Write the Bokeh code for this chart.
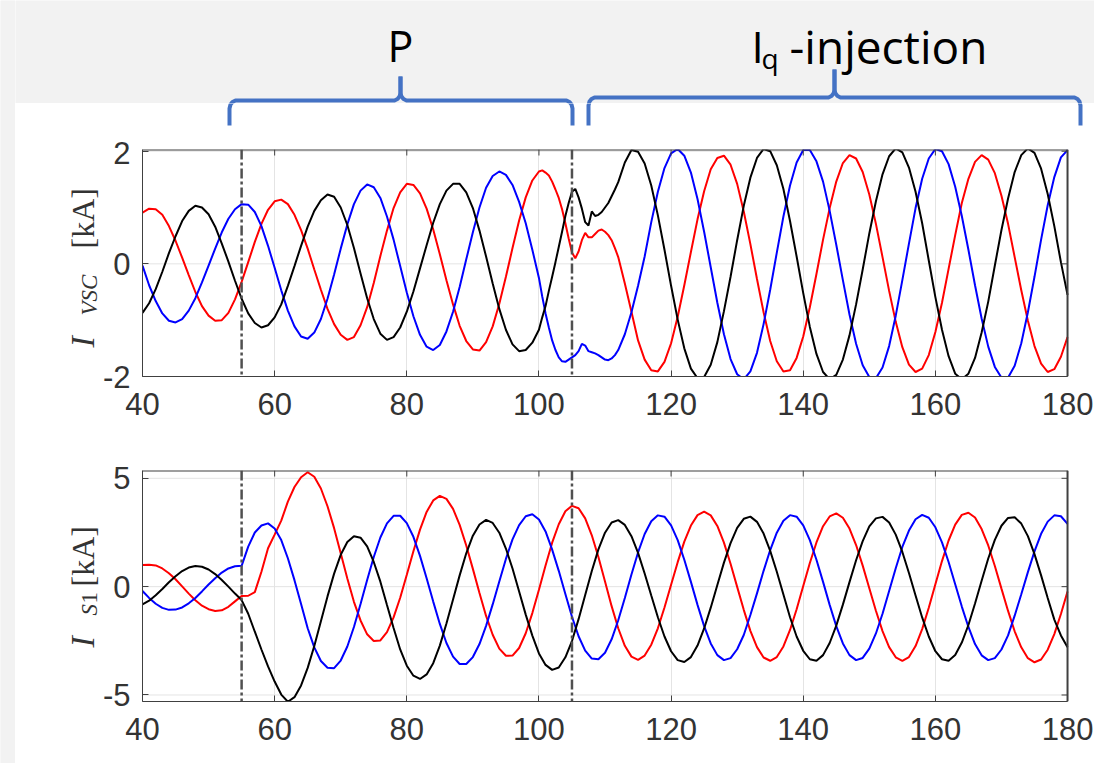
import math
from bokeh.plotting import figure
from bokeh.layouts import row, column
from bokeh.models import Range1d, Span, FixedTicker
from bokeh.embed import file_html
from bokeh.resources import INLINE
from bokeh.core.properties import value

# ------------------------------------------------------------------ data
# time axis [ms]; the upper panel is sampled every 0.5 ms around the 105 ms event
t_top = list(range(40, 100)) + [100 + 0.5 * k for k in range(24)] + list(range(112, 181))
t_bot = list(range(40, 181))

# I_VSC [kA], three phases
ivsc_red = [
    0.91, 0.98, 0.97, 0.87, 0.67, 0.41, 0.11, -0.20, -0.50, -0.75,
    -0.92, -1.01, -1.00, -0.87, -0.63, -0.32, 0.03, 0.39, 0.71, 0.96,
    1.11, 1.14, 1.06, 0.87, 0.60, 0.27, -0.10, -0.46, -0.80, -1.07,
    -1.26, -1.35, -1.30, -1.09, -0.77, -0.34, 0.14, 0.59, 0.99, 1.27,
    1.42, 1.40, 1.25, 0.98, 0.61, 0.17, -0.29, -0.72, -1.10, -1.37,
    -1.52, -1.54, -1.39, -1.11, -0.71, -0.23, 0.28, 0.77, 1.18, 1.48,
    1.64, 1.66, 1.62, 1.57, 1.46, 1.32, 1.17, 0.97, 0.72, 0.45, 0.20, 0.10,
    0.22, 0.42, 0.55, 0.47, 0.47, 0.53, 0.59, 0.61, 0.57, 0.51, 0.42, 0.28,
    0.12, -0.35, -0.85, -1.36, -1.70, -1.89, -1.91, -1.74,
    -1.41, -0.94, -0.38, 0.21, 0.79, 1.29, 1.68, 1.88, 1.92, 1.76,
    1.42, 0.93, 0.35, -0.27, -0.86, -1.37, -1.73, -1.91, -1.89, -1.67,
    -1.29, -0.77, -0.18, 0.43, 0.99, 1.46, 1.79, 1.93, 1.87, 1.63,
    1.23, 0.71, 0.12, -0.48, -1.03, -1.48, -1.79, -1.92, -1.86, -1.62,
    -1.21, -0.69, -0.09, 0.51, 1.08, 1.51, 1.81, 1.93, 1.85, 1.61,
    1.21, 0.71, 0.12, -0.47, -1.01, -1.46, -1.77, -1.92, -1.87, -1.65, -1.30,
]
ivsc_black = [
    -0.87, -0.70, -0.45, -0.14, 0.19, 0.49, 0.76, 0.94, 1.03, 1.00,
    0.88, 0.66, 0.36, 0.04, -0.30, -0.62, -0.88, -1.05, -1.13, -1.09,
    -0.95, -0.72, -0.39, -0.04, 0.32, 0.66, 0.94, 1.13, 1.23, 1.19,
    1.00, 0.69, 0.28, -0.17, -0.61, -0.98, -1.24, -1.35, -1.30, -1.13,
    -0.85, -0.49, -0.08, 0.33, 0.73, 1.06, 1.30, 1.42, 1.42, 1.27,
    0.99, 0.59, 0.13, -0.35, -0.80, -1.17, -1.43, -1.55, -1.53, -1.40,
    -1.17, -0.95, -0.75, -0.48, -0.23, 0.03, 0.30, 0.57, 0.85, 1.08, 1.28, 1.33,
    1.18, 0.98, 0.74, 0.68, 0.93, 0.85, 0.87, 0.92, 1.00, 1.08, 1.20, 1.32,
    1.45, 1.80, 2.02, 1.99, 1.78, 1.39, 0.86, 0.25,
    -0.39, -0.99, -1.50, -1.86, -2.03, -2.01, -1.79, -1.39, -0.84, -0.23,
    0.42, 1.03, 1.53, 1.88, 2.04, 2.00, 1.75, 1.33, 0.76, 0.13,
    -0.52, -1.12, -1.60, -1.92, -2.05, -1.97, -1.70, -1.27, -0.72, -0.10,
    0.54, 1.11, 1.59, 1.91, 2.05, 1.98, 1.71, 1.28, 0.72, 0.06,
    -0.59, -1.17, -1.64, -1.95, -2.05, -1.95, -1.67, -1.22, -0.67, -0.03,
    0.60, 1.16, 1.63, 1.93, 2.05, 1.97, 1.69, 1.24, 0.67, 0.03, -0.55,
]
ivsc_blue = [
    -0.03, -0.38, -0.66, -0.88, -1.01, -1.04, -0.98, -0.83, -0.61, -0.33,
    -0.03, 0.27, 0.56, 0.80, 0.97, 1.06, 1.05, 0.92, 0.67, 0.32,
    -0.07, -0.47, -0.83, -1.11, -1.29, -1.33, -1.22, -0.98, -0.62, -0.19,
    0.27, 0.70, 1.06, 1.30, 1.41, 1.36, 1.17, 0.84, 0.43, -0.04,
    -0.51, -0.93, -1.26, -1.47, -1.53, -1.44, -1.20, -0.85, -0.41, 0.08,
    0.56, 1.00, 1.35, 1.56, 1.64, 1.58, 1.40, 1.10, 0.72, 0.25,
    -0.25, -0.58, -0.88, -1.13, -1.36, -1.53, -1.66, -1.73, -1.74, -1.70, -1.66, -1.62,
    -1.55, -1.42, -1.45, -1.55, -1.57, -1.59, -1.62, -1.66, -1.70, -1.71, -1.68, -1.62,
    -1.53, -1.25, -0.86, -0.39, 0.13, 0.74, 1.28, 1.70,
    1.96, 2.04, 1.92, 1.62, 1.15, 0.57, -0.06, -0.69, -1.25, -1.69,
    -1.96, -2.05, -1.91, -1.58, -1.07, -0.46, 0.20, 0.84, 1.39, 1.80,
    2.02, 2.02, 1.82, 1.46, 0.94, 0.34, -0.29, -0.90, -1.42, -1.80,
    -2.01, -2.03, -1.84, -1.46, -0.92, -0.29, 0.36, 0.99, 1.51, 1.87,
    2.04, 2.00, 1.77, 1.37, 0.85, 0.25, -0.38, -0.97, -1.47, -1.83,
    -2.02, -2.02, -1.81, -1.41, -0.86, -0.23, 0.43, 1.04, 1.54, 1.89, 2.02,
]

# I_S1 [kA], three phases
is1_red = [
    1.00, 1.01, 0.98, 0.84, 0.62, 0.34, 0.01, -0.32, -0.63, -0.88,
    -1.04, -1.12, -1.09, -0.93, -0.68, -0.43, -0.42, -0.25, 0.69, 1.77,
    2.40, 3.05, 3.92, 4.60, 5.05, 5.28, 5.07, 4.53, 3.71, 2.70,
    1.54, 0.38, -0.70, -1.56, -2.20, -2.51, -2.48, -2.10, -1.42, -0.51,
    0.55, 1.63, 2.63, 3.45, 3.98, 4.19, 4.05, 3.59, 2.85, 1.90,
    0.82, -0.29, -1.35, -2.22, -2.86, -3.19, -3.18, -2.83, -2.15, -1.22,
    -0.14, 0.98, 2.03, 2.88, 3.48, 3.73, 3.62, 3.15, 2.37, 1.37,
    0.24, -0.90, -1.92, -2.73, -3.23, -3.38, -3.18, -2.68, -1.92, -0.96,
    0.09, 1.13, 2.08, 2.82, 3.30, 3.46, 3.29, 2.80, 2.03, 1.06,
    -0.01, -1.07, -2.04, -2.79, -3.27, -3.42, -3.25, -2.76, -2.00, -1.04,
    0.03, 1.09, 2.04, 2.79, 3.24, 3.38, 3.18, 2.68, 1.92, 0.97,
    -0.07, -1.11, -2.05, -2.79, -3.26, -3.42, -3.25, -2.74, -1.96, -0.97,
    0.11, 1.18, 2.13, 2.86, 3.31, 3.41, 3.19, 2.66, 1.90, 0.95,
    -0.09, -1.12, -2.06, -2.80, -3.30, -3.49, -3.36, -2.91, -2.19, -1.26, -0.22,
]
is1_blue = [
    -0.20, -0.52, -0.79, -0.98, -1.07, -1.06, -0.96, -0.77, -0.52, -0.22,
    0.10, 0.39, 0.65, 0.84, 0.94, 0.96, 1.85, 2.50, 2.82, 2.92,
    2.68, 2.15, 1.31, 0.30, -0.80, -1.92, -2.80, -3.43, -3.74, -3.76,
    -3.41, -2.76, -1.86, -0.80, 0.31, 1.37, 2.27, 2.92, 3.27, 3.27,
    2.93, 2.30, 1.42, 0.39, -0.69, -1.72, -2.60, -3.23, -3.57, -3.57,
    -3.25, -2.65, -1.81, -0.82, 0.24, 1.28, 2.18, 2.84, 3.25, 3.34,
    3.10, 2.55, 1.71, 0.73, -0.34, -1.39, -2.29, -2.95, -3.32, -3.35,
    -3.05, -2.43, -1.55, -0.52, 0.56, 1.58, 2.43, 3.02, 3.29, 3.23,
    2.83, 2.15, 1.24, 0.22, -0.84, -1.82, -2.62, -3.16, -3.39, -3.30,
    -2.89, -2.23, -1.31, -0.31, 0.73, 1.69, 2.49, 3.04, 3.30, 3.23,
    2.83, 2.15, 1.24, 0.22, -0.84, -1.82, -2.62, -3.16, -3.39, -3.29,
    -2.86, -2.16, -1.25, -0.20, 0.85, 1.83, 2.59, 3.11, 3.31, 3.18,
    2.74, 2.04, 1.14, 0.11, -0.92, -1.86, -2.65, -3.17, -3.39, -3.30,
    -2.90, -2.25, -1.34, -0.35, 0.67, 1.63, 2.44, 3.00, 3.29, 3.25, 2.90,
]
is1_black = [
    -0.82, -0.65, -0.40, -0.11, 0.20, 0.48, 0.72, 0.88, 0.95, 0.92,
    0.79, 0.58, 0.31, 0.00, -0.32, -0.62, -1.25, -2.08, -2.90, -3.68,
    -4.38, -4.98, -5.31, -5.10, -4.56, -3.75, -2.74, -1.60, -0.45, 0.60,
    1.47, 2.06, 2.33, 2.26, 1.86, 1.14, 0.23, -0.85, -1.91, -2.90,
    -3.65, -4.11, -4.26, -4.05, -3.53, -2.72, -1.70, -0.59, 0.52, 1.54,
    2.35, 2.87, 3.08, 2.94, 2.49, 1.76, 0.84, -0.22, -1.29, -2.26,
    -3.08, -3.61, -3.84, -3.73, -3.26, -2.51, -1.50, -0.39, 0.72, 1.72,
    2.49, 2.96, 3.07, 2.85, 2.33, 1.56, 0.61, -0.41, -1.41, -2.30,
    -2.98, -3.39, -3.48, -3.25, -2.72, -1.93, -0.97, 0.08, 1.11, 2.01,
    2.71, 3.13, 3.23, 2.99, 2.45, 1.65, 0.69, -0.36, -1.41, -2.30,
    -2.96, -3.35, -3.42, -3.16, -2.60, -1.80, -0.83, 0.21, 1.22, 2.10,
    2.78, 3.15, 3.22, 2.96, 2.40, 1.60, 0.63, -0.41, -1.42, -2.30,
    -2.98, -3.35, -3.42, -3.15, -2.58, -1.77, -0.78, 0.27, 1.30, 2.16,
    2.81, 3.17, 3.20, 2.91, 2.33, 1.50, 0.52, -0.52, -1.52, -2.25, -2.80,
]

events = [55, 105]                       # switching instants [ms]
x_ticks = [40, 60, 80, 100, 120, 140, 160, 180]
y_ticks_top = [-2, 0, 2]
y_ticks_bot = [-5, 0, 5]
phase_colors = ["#ff0000", "#0000ff", "#000000"]

assert len(t_top) == len(ivsc_red) == len(ivsc_black) == len(ivsc_blue)
assert len(t_bot) == len(is1_red) == len(is1_black) == len(is1_blue)

# ------------------------------------------------------------------ geometry (page pixels)
GRAY_BG = "#f2f2f2"
AX = "#404040"
TXT = "#333333"
GRID = "#e4e4e4"
BRACE = "#4472c4"
PAGE_W = 1094
STRIP_W = 15                  # grey strip at the left edge
LAB_L, LAB_R = STRIP_W, 99    # column holding the y-axis titles
BOX_L, BOX_R = 141, 1067      # where t = 40 and t = 180 sit
PLOT_W = PAGE_W - LAB_R
PX_PER_MS = (BOX_R - BOX_L) / (x_ticks[-1] - x_ticks[0])
X_HI = x_ticks[-1] + (PAGE_W - BOX_R) / PX_PER_MS


def make_panel(t, series, ylo, yhi, yticks, height, btop, bbot, frame_h):
    p = figure(width=PLOT_W, height=height, x_range=Range1d(x_ticks[0], X_HI),
               y_range=Range1d(ylo, yhi), output_backend="svg", toolbar_location=None,
               min_border_left=BOX_L - LAB_R, min_border_right=0,
               min_border_top=btop, min_border_bottom=bbot)
    p.background_fill_color = "white"
    p.border_fill_color = "white"
    p.outline_line_color = None
    xa, ya = p.xaxis[0], p.yaxis[0]
    xa.ticker = FixedTicker(ticks=x_ticks)
    ya.ticker = FixedTicker(ticks=yticks)
    ya.major_label_overrides = {v: str(v) for v in yticks}
    xa.bounds = (x_ticks[0], x_ticks[-1])
    for ax in (xa, ya):
        ax.axis_line_color = AX
        ax.major_tick_line_color = AX
        ax.major_tick_in = 6
        ax.major_tick_out = 0
        ax.minor_tick_line_color = None
        ax.major_label_text_font = "Liberation Sans"
        ax.major_label_text_font_size = "31px"
        ax.major_label_text_color = TXT
    xa.major_label_standoff = 16
    ya.major_label_standoff = 12
    p.xgrid.ticker = FixedTicker(ticks=x_ticks)
    p.xgrid.grid_line_color = GRID
    p.ygrid.visible = False
    # horizontal grid lines limited to the plot box
    p.segment(x0=[x_ticks[0]] * len(yticks), x1=[x_ticks[-1]] * len(yticks),
              y0=yticks, y1=yticks, line_color=GRID, line_width=1)

    for ys, c in zip(series, phase_colors):
        p.line(t, ys, line_color=c, line_width=2)

    for e in events:
        p.add_layout(Span(location=e, dimension="height", line_color="#505050",
                          line_width=2.5, line_dash="10 3 3 3"))

    # top and right edges of the box with mirrored inward ticks
    dy = 6 * (yhi - ylo) / frame_h
    dx = 6 / PX_PER_MS
    p.segment(x0=[x_ticks[0], x_ticks[-1]], y0=[yhi, ylo], x1=[x_ticks[-1], x_ticks[-1]],
              y1=[yhi, yhi], line_color=AX, line_width=2)
    p.segment(x0=x_ticks, x1=x_ticks, y0=[yhi] * len(x_ticks), y1=[yhi - dy] * len(x_ticks),
              line_color=AX, line_width=1)
    p.segment(x0=[x_ticks[-1]] * len(yticks), x1=[x_ticks[-1] - dx] * len(yticks),
              y0=yticks, y1=yticks, line_color=AX, line_width=1)
    return p


def label_fig(height, btop, bbot, frame_top, frame_h, parts):
    """Narrow figure left of a panel carrying the rotated y-axis title (page px coords)."""
    f = figure(width=LAB_R - LAB_L, height=height, x_range=Range1d(LAB_L, LAB_R),
               y_range=Range1d(-(frame_top + frame_h), -frame_top),
               output_backend="svg", toolbar_location=None,
               x_axis_location=None, y_axis_location=None,
               min_border_left=0, min_border_right=0, min_border_top=btop, min_border_bottom=bbot)
    f.outline_line_color = None
    f.grid.visible = False
    f.background_fill_color = "white"
    f.border_fill_color = "white"
    for text, X, Y, style, size in parts:
        f.text(x=[X], y=[-Y], text=[text], angle=math.pi / 2,
               text_font=value("Liberation Serif"), text_font_style=style,
               text_font_size=f"{size}px", text_color=TXT,
               text_align="left", text_baseline="alphabetic")
    return f


TOP_LO, TOP_HI = -2.0, 2.03
p1 = make_panel(t_top, [ivsc_red, ivsc_blue, ivsc_black], TOP_LO, TOP_HI, y_ticks_top,
                319, 8, 84, 227)
lab1 = label_fig(319, 8, 84, 149, 227,
                 [("I", 82, 347, "italic", 34), ("VSC", 89, 315, "italic", 23),
                  ("[kA]", 82, 248, "normal", 32)])

BOT_LO, BOT_HI = -5.3, 5.36
p2 = make_panel(t_bot, [is1_red, is1_blue, is1_black], BOT_LO, BOT_HI, y_ticks_bot,
                303, 10, 62, 231)
lab2 = label_fig(303, 10, 62, 470, 231,
                 [("I", 82, 647, "italic", 34), ("S", 89, 615, "italic", 23),
                  ("1", 89, 603, "normal", 23), ("[kA]", 82, 586, "normal", 32)])


# ------------------------------------------------------------------ header (page px coords)
def header_fig(height, y_top, y_bot, bg):
    f = figure(width=PAGE_W - STRIP_W, height=height, x_range=Range1d(STRIP_W, PAGE_W),
               y_range=Range1d(y_bot, y_top), output_backend="svg", toolbar_location=None,
               x_axis_location=None, y_axis_location=None,
               min_border_left=0, min_border_right=0, min_border_top=0, min_border_bottom=0)
    f.outline_line_color = None
    f.grid.visible = False
    f.background_fill_color = bg
    f.border_fill_color = bg
    return f


ann_top = header_fig(103, 0, 103, GRAY_BG)
ann_bot = header_fig(38, 103, 141, "white")


def brace(f, x1, x2, tip, ybar, ytip, ybot):
    left = [(x1, ybot), (x1, ybar + 8), (x1 + 1, ybar + 4), (x1 + 3, ybar + 1.5), (x1 + 6, ybar),
            (tip - 6, ybar), (tip - 3, ybar - 1.5), (tip - 1, ybar - 4), (tip, ybar - 7), (tip, ytip)]
    right = [(tip, ytip), (tip, ybar - 7), (tip + 1, ybar - 4), (tip + 3, ybar - 1.5), (tip + 6, ybar),
             (x2 - 6, ybar), (x2 - 3, ybar + 1.5), (x2 - 1, ybar + 4), (x2, ybar + 8), (x2, ybot)]
    xs = [[a for a, b in left], [a for a, b in right]]
    ys = [[b for a, b in left], [b for a, b in right]]
    f.multi_line(xs, ys, line_color=BRACE, line_width=4, line_join="round")


for f in (ann_top, ann_bot):
    brace(f, 229, 572, 400, 100, 76, 125)
    brace(f, 588, 1080, 834, 97, 69, 125)

hdr_font = value("Open Sans")
ann_top.text(x=[400], y=[45], text=["P"], text_font=hdr_font, text_font_size="43px",
             text_align="center", text_baseline="alphabetic", text_color="#000000")
ann_top.text(x=[751], y=[45], text=["I"], text_font=hdr_font, text_font_size="44px",
             text_align="left", text_baseline="alphabetic", text_color="#000000")
ann_top.text(x=[761], y=[57], text=["q"], text_font=hdr_font, text_font_size="28px",
             text_align="left", text_baseline="alphabetic", text_color="#000000")
ann_top.text(x=[789], y=[45], text=["-injection"], text_font=hdr_font, text_font_size="46px",
             text_align="left", text_baseline="alphabetic", text_color="#000000")

# ------------------------------------------------------------------ left grey strip
strip = figure(width=STRIP_W, height=763, output_backend="svg", toolbar_location=None,
               x_axis_location=None, y_axis_location=None, min_border=0,
               x_range=Range1d(0, 1), y_range=Range1d(0, 1))
strip.background_fill_color = GRAY_BG
strip.border_fill_color = GRAY_BG
strip.outline_line_color = None
strip.grid.visible = False
strip.quad(left=[0], right=[1], top=[1], bottom=[0], fill_color=GRAY_BG, line_color=None)

layout = row(strip, column(ann_top, ann_bot, row(lab1, p1), row(lab2, p2)))
open("out.html", "w").write(file_html(layout, INLINE))
